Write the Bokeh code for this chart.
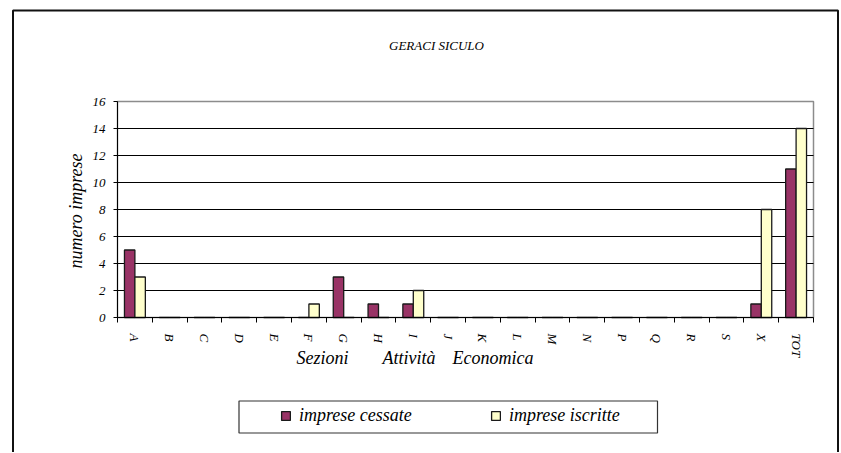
import math
from bokeh.plotting import figure
from bokeh.models import (FixedTicker, Legend, LegendItem, LinearAxis, Label,
                          BoxAnnotation, Range1d, ColumnDataSource)
from bokeh.embed import file_html
from bokeh.resources import INLINE

# ---- data ----
categories = ["A", "B", "C", "D", "E", "F", "G", "H", "I", "J", "K", "L",
              "M", "N", "P", "Q", "R", "S", "X", "TOT"]
cessate = [5, 0, 0, 0, 0, 0, 3, 1, 1, 0, 0, 0, 0, 0, 0, 0, 0, 0, 1, 11]
iscritte = [3, 0, 0, 0, 0, 1, 0, 0, 2, 0, 0, 0, 0, 0, 0, 0, 0, 0, 8, 14]
series_names = ["imprese cessate", "imprese iscritte"]
y_ticks = [0, 2, 4, 6, 8, 10, 12, 14, 16]
title_text = "GERACI SICULO"
y_title = "numero imprese"
x_title_words = ["Sezioni", "Attività", "Economica"]

# ---- layout constants (pixels) ----
W, H = 840, 452
PLOT_L, PLOT_R, PLOT_T, PLOT_B = 117, 813, 101, 317
N = len(categories)
YMAX = y_ticks[-1]
KX = (PLOT_R - PLOT_L) / N
KY = (PLOT_B - PLOT_T) / YMAX


def dx(px):
    return (px - PLOT_L) / KX


def dy(py):
    return (PLOT_B - py) / KY


FONT = "Liberation Serif"
C1 = "#993366"
C2 = "#FFFFCC"

idx = list(range(N))
src = ColumnDataSource(dict(
    x1=[i + 0.35 for i in idx], x2=[i + 0.65 for i in idx],
    cessate=cessate, iscritte=iscritte))

p = figure(width=W, height=H, output_backend="svg", toolbar_location=None,
           x_range=Range1d(dx(0), dx(W)), y_range=Range1d(dy(H), dy(0)),
           x_axis_location=None, y_axis_location=None, min_border=0)
p.title.visible = False
p.outline_line_color = None
p.background_fill_color = "white"
p.border_fill_color = "white"
p.grid.visible = False

# plot-area outline (grey top/right edges)
p.add_layout(BoxAnnotation(left=0, right=N, bottom=0, top=YMAX, fill_alpha=0,
                           line_color="#8c8c8c", line_alpha=1, line_width=1.5,
                           level="underlay"))

# horizontal grid lines at the inner ticks
grid_vals = y_ticks[1:-1]
p.segment(x0=[0] * len(grid_vals), x1=[N] * len(grid_vals), y0=grid_vals, y1=grid_vals,
          line_color="black", line_width=1)

r1 = p.vbar(x="x1", top="cessate", width=0.3, source=src, fill_color=C1,
            line_color="#1a1a1a", line_width=1.3)
r2 = p.vbar(x="x2", top="iscritte", width=0.3, source=src, fill_color=C2,
            line_color="#1a1a1a", line_width=1.3)

# y axis
yaxis = LinearAxis(fixed_location=0, bounds=(0, YMAX), ticker=FixedTicker(ticks=y_ticks),
                   axis_line_color="black", major_tick_out=4, major_tick_in=0,
                   minor_tick_line_color=None, major_label_standoff=8,
                   major_label_text_font=FONT, major_label_text_font_style="italic",
                   major_label_text_font_size="13px", major_label_text_color="black")
p.add_layout(yaxis, "left")

# x axis
centers = [i + 0.5 for i in idx]
xaxis = LinearAxis(fixed_location=0, bounds=(0, N),
                   ticker=FixedTicker(ticks=centers, minor_ticks=list(range(N + 1))),
                   major_label_overrides={c: cat for c, cat in zip(centers, categories)},
                   axis_line_color="black", major_tick_out=0, major_tick_in=0,
                   minor_tick_out=5, minor_tick_in=0, minor_tick_line_color="black",
                   major_label_orientation="vertical", major_label_standoff=11,
                   major_label_text_font=FONT, major_label_text_font_style="italic",
                   major_label_text_font_size="13px", major_label_text_color="black")
p.add_layout(xaxis, "below")

# texts
p.add_layout(Label(x=dx(436), y=dy(45), text=title_text, text_font=FONT,
                   text_font_style="italic", text_font_size="13px", text_color="black",
                   text_align="center", text_baseline="middle"))
p.add_layout(Label(x=dx(75.5), y=dy(210.5), text=y_title, angle=math.pi / 2,
                   text_font=FONT, text_font_style="italic", text_font_size="18px",
                   text_color="black", text_align="center", text_baseline="middle"))
for word, px in zip(x_title_words, [296, 382, 452]):
    p.add_layout(Label(x=dx(px), y=dy(357), text=word, text_font=FONT,
                       text_font_style="italic", text_font_size="18px", text_color="black",
                       text_align="left", text_baseline="middle"))

# legend
legend = Legend(items=[LegendItem(label=series_names[0], renderers=[r1]),
                       LegendItem(label=series_names[1], renderers=[r2])],
                orientation="horizontal", location=(280, H - 426),
                glyph_width=11, glyph_height=11, label_standoff=8,
                label_width=120, label_height=20, spacing=71, padding=0, margin=0,
                border_line_color=None, background_fill_alpha=0,
                label_text_font=FONT, label_text_font_style="italic",
                label_text_font_size="18px", label_text_color="black")
p.add_layout(legend)

# legend box
p.add_layout(BoxAnnotation(left=dx(238.5), right=dx(657), top=dy(400.5), bottom=dy(432.5),
                           fill_alpha=0, line_color="#333333", line_alpha=1, line_width=1.2))
# outer chart frame
p.add_layout(BoxAnnotation(left=dx(12.5), right=dx(837.5), top=dy(10), bottom=dy(H + 20),
                           fill_alpha=0, line_color="#111111", line_alpha=1, line_width=2))

open("out.html", "w").write(file_html(p, INLINE))
